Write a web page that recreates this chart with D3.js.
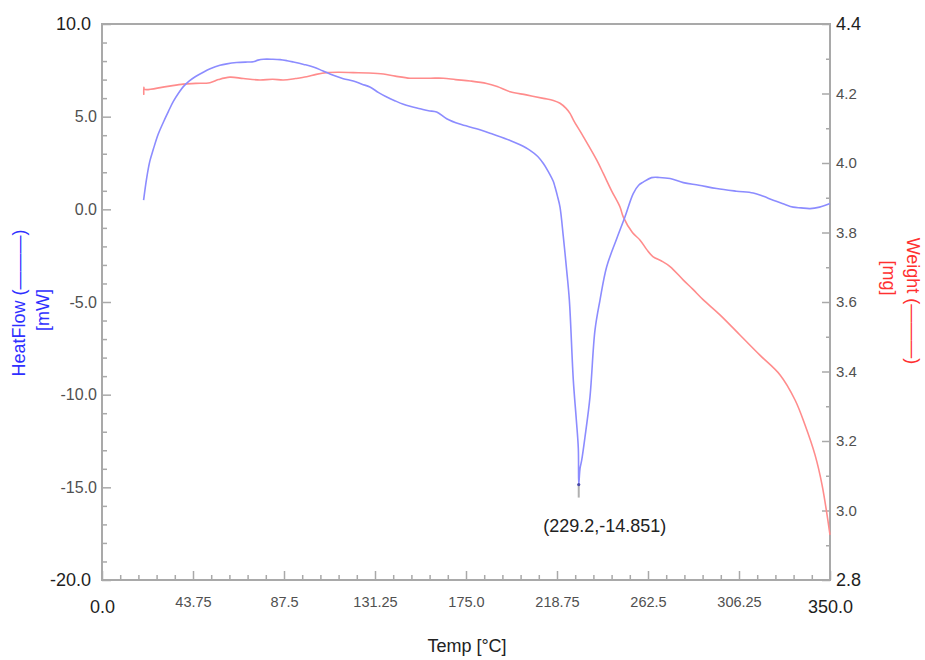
<!DOCTYPE html>
<html>
<head>
<meta charset="utf-8">
<script src="https://cdn.jsdelivr.net/npm/d3@7/dist/d3.min.js"></script>
<style>
  html, body { margin: 0; padding: 0; background: #fff; }
  svg { display: block; font-family: "Liberation Sans", Arial, sans-serif; }
</style>
</head>
<body>
<svg id="chart" width="925" height="660"></svg>
<script>
// Temperature (°C) and heat flow (mW) of the DSC trace
const heatTemp = [20.0,21.5,23.0,24.7,27.0,29.5,32.0,34.3,37.0,39.1,42.0,45.0,48.7,52.0,56.7,60.0,64.7,70.0,72.7,75.0,77.6,82.0,85.6,89.0,92.0,97.0,101.6,106.0,111.2,116.0,120.8,125.0,128.8,133.0,136.9,141.0,144.9,148.1,152.9,157.0,160.9,165.7,172.0,180.1,188.0,196.2,201.0,205.8,209.5,212.2,214.5,217.0,217.8,219.0,220.2,221.8,223.4,224.7,226.6,228.0,229.0,229.2,229.8,230.6,232.2,234.6,237.0,239.4,242.6,247.4,251.4,255.4,258.0,260.2,264.2,268.0,273.1,279.5,287.0,295.5,305.0,313.1,318.0,322.7,327.5,332.3,336.0,340.4,345.0,350.0];
const heatFlow = [0.5,1.7,2.6,3.25,4.05,4.7,5.3,5.82,6.3,6.62,6.93,7.17,7.4,7.58,7.77,7.85,7.92,7.95,7.96,8.05,8.1,8.1,8.08,8.02,7.95,7.82,7.68,7.48,7.23,7.05,6.92,6.75,6.6,6.3,6.06,5.85,5.67,5.56,5.43,5.32,5.25,4.89,4.6,4.35,4.05,3.72,3.48,3.18,2.85,2.47,2.05,1.5,1.2,0.7,0.12,-1.49,-3.29,-4.91,-9.23,-11.3,-12.9,-14.851,-14.0,-13.55,-12.29,-10.13,-6.53,-4.91,-3.11,-1.6,-0.41,0.85,1.3,1.47,1.71,1.72,1.66,1.44,1.3,1.12,0.98,0.88,0.7,0.49,0.3,0.12,0.08,0.04,0.12,0.31];

// Temperature (°C) and sample weight (mg) of the TGA trace
const weightTemp = [20.1,20.1,20.4,30.0,39.1,45.0,51.9,56.0,61.5,68.0,75.9,82.0,87.2,93.0,98.4,103.0,108.0,114.0,120.8,128.0,135.3,141.0,148.1,152.9,158.0,164.1,170.0,177.0,184.9,190.0,196.2,204.0,212.2,217.0,220.2,223.0,225.0,226.6,231.4,237.8,241.0,245.0,249.0,250.6,255.0,258.7,262.0,265.0,269.0,273.1,279.5,284.0,289.1,297.1,306.7,316.3,326.0,333.2,338.0,342.8,346.2,350.0];
const weight = [4.196,4.218,4.212,4.219,4.227,4.229,4.231,4.24,4.247,4.243,4.239,4.241,4.239,4.243,4.248,4.255,4.26,4.261,4.26,4.259,4.256,4.25,4.244,4.244,4.244,4.244,4.24,4.236,4.229,4.22,4.205,4.196,4.186,4.18,4.172,4.158,4.143,4.124,4.076,4.009,3.97,3.92,3.874,3.845,3.8,3.778,3.75,3.73,3.718,3.702,3.663,3.637,3.606,3.563,3.505,3.447,3.39,3.318,3.246,3.16,3.073,2.93];

// Peak annotation
const peakTemp = 229.2;
const peakFlow = -14.851;

// Tick values and labels
const xTicks = [0, 43.75, 87.5, 131.25, 175, 218.75, 262.5, 306.25, 350];
const xTickLabels = ["0.0","43.75","87.5","131.25","175.0","218.75","262.5","306.25","350.0"];
const leftTicks = [-20, -15, -10, -5, 0, 5, 10];
const leftTickLabels = ["-20.0","-15.0","-10.0","-5.0","0.0","5.0","10.0"];
const rightTicks = [2.8, 3.0, 3.2, 3.4, 3.6, 3.8, 4.0, 4.2, 4.4];
const rightTickLabels = ["2.8","3.0","3.2","3.4","3.6","3.8","4.0","4.2","4.4"];

const svg = d3.select("#chart");
const L = 102, R = 830, T = 24, B = 580;

const x = d3.scaleLinear().domain([0, 350]).range([L, R]);
const yL = d3.scaleLinear().domain([-20, 10]).range([B, T]);
const yR = d3.scaleLinear().domain([2.8, 4.4]).range([B, T]);

const axisColor = "#a9a9a9";
const labelColor = "#505050";
const limitColor = "#1e1e1e";

function styleAxis(g) {
  g.select(".domain").remove();
  g.selectAll(".tick line").attr("stroke", axisColor).attr("stroke-width", 1.5);
}

// Minor ticks
const xMinor = d3.range(0, 350.01, 8.75).filter(v => xTicks.every(t => Math.abs(t - v) > 1e-6));
const lMinor = d3.range(-20, 10.01, 1).filter(v => leftTicks.indexOf(v) < 0);
const rMinor = d3.range(28, 44.01, 1).map(v => v / 10).filter(v => rightTicks.every(t => Math.abs(t - v) > 1e-6));

svg.append("g").attr("transform", `translate(0,${B})`)
  .call(d3.axisBottom(x).tickValues(xMinor).tickSize(-5).tickFormat(""))
  .call(styleAxis);
svg.append("g").attr("transform", `translate(${L},0)`)
  .call(d3.axisLeft(yL).tickValues(lMinor).tickSize(-5).tickFormat(""))
  .call(styleAxis);
svg.append("g").attr("transform", `translate(${R},0)`)
  .call(d3.axisRight(yR).tickValues(rMinor).tickSize(-4).tickFormat(""))
  .call(styleAxis);

// Major ticks with labels
const gx = svg.append("g").attr("transform", `translate(0,${B})`)
  .call(d3.axisBottom(x).tickValues(xTicks).tickSize(-9).tickPadding(17)
        .tickFormat((d, i) => xTickLabels[i]))
  .call(styleAxis);
gx.selectAll(".tick text").attr("fill", labelColor).attr("font-size", 14.5)
  .attr("font-family", "Liberation Sans, Arial, sans-serif");
gx.selectAll(".tick text").filter((d, i) => i === 0 || i === xTicks.length - 1)
  .attr("font-size", 18).attr("fill", limitColor).attr("y", 20);

const gl = svg.append("g").attr("transform", `translate(${L},0)`)
  .call(d3.axisLeft(yL).tickValues(leftTicks).tickSize(-9).tickPadding(5)
        .tickFormat((d, i) => leftTickLabels[i]))
  .call(styleAxis);
gl.selectAll(".tick text").attr("fill", labelColor).attr("font-size", 16)
  .attr("font-family", "Liberation Sans, Arial, sans-serif");
gl.selectAll(".tick text").filter((d, i) => i === 0 || i === leftTicks.length - 1)
  .attr("font-size", 18).attr("fill", limitColor).attr("x", -11);

const gr = svg.append("g").attr("transform", `translate(${R},0)`)
  .call(d3.axisRight(yR).tickValues(rightTicks).tickSize(-8).tickPadding(6)
        .tickFormat((d, i) => rightTickLabels[i]))
  .call(styleAxis);
gr.selectAll(".tick text").attr("fill", labelColor).attr("font-size", 15)
  .attr("font-family", "Liberation Sans, Arial, sans-serif");
gr.selectAll(".tick text").filter((d, i) => i === 0 || i === rightTicks.length - 1)
  .attr("font-size", 18).attr("fill", limitColor);

// Plot frame
svg.append("rect")
  .attr("x", L).attr("y", T).attr("width", R - L).attr("height", B - T)
  .attr("fill", "none").attr("stroke", axisColor).attr("stroke-width", 2);

// Curves
const heatData = heatTemp.map((t, i) => [t, heatFlow[i]]);
const weightData = weightTemp.map((t, i) => [t, weight[i]]);

svg.append("path")
  .datum(weightData)
  .attr("fill", "none")
  .attr("stroke", "#ff8c8c")
  .attr("stroke-width", 1.6)
  .attr("d", d3.line().x(d => x(d[0])).y(d => yR(d[1])).curve(d3.curveCatmullRom.alpha(0.5)));

svg.append("path")
  .datum(heatData)
  .attr("fill", "none")
  .attr("stroke", "#8c8cff")
  .attr("stroke-width", 1.6)
  .attr("d", d3.line().x(d => x(d[0])).y(d => yL(d[1])).curve(d3.curveCatmullRom.alpha(0.5)));

// Peak marker and label
const px = x(peakTemp), py = yL(peakFlow);
svg.append("line")
  .attr("x1", px).attr("x2", px).attr("y1", py).attr("y2", py + 13)
  .attr("stroke", "#b0b0b0").attr("stroke-width", 2);
svg.append("circle").attr("cx", px).attr("cy", py).attr("r", 1.6).attr("fill", "#4a4aa8");
svg.append("text")
  .attr("x", px + 26).attr("y", py + 47)
  .attr("text-anchor", "middle")
  .attr("font-size", 18).attr("fill", "#222")
  .text(`(${peakTemp},${peakFlow})`);

// Axis titles
svg.append("text")
  .attr("x", 467).attr("y", 652)
  .attr("text-anchor", "middle")
  .attr("font-size", 18).attr("fill", "#222")
  .text("Temp [°C]");

svg.append("text")
  .attr("transform", "translate(25,303) rotate(-90)")
  .attr("text-anchor", "middle")
  .attr("font-size", 18).attr("fill", "#2f2fff")
  .text("HeatFlow (———)");
svg.append("text")
  .attr("transform", "translate(49,310) rotate(-90)")
  .attr("text-anchor", "middle")
  .attr("font-size", 18).attr("fill", "#2f2fff")
  .text("[mW]");

svg.append("text")
  .attr("transform", "translate(907,301) rotate(90)")
  .attr("text-anchor", "middle")
  .attr("font-size", 18).attr("fill", "#ff3030")
  .text("Weight (———)");
svg.append("text")
  .attr("transform", "translate(883,278) rotate(90)")
  .attr("text-anchor", "middle")
  .attr("font-size", 18).attr("fill", "#ff3030")
  .text("[mg]");
</script>
</body>
</html>
